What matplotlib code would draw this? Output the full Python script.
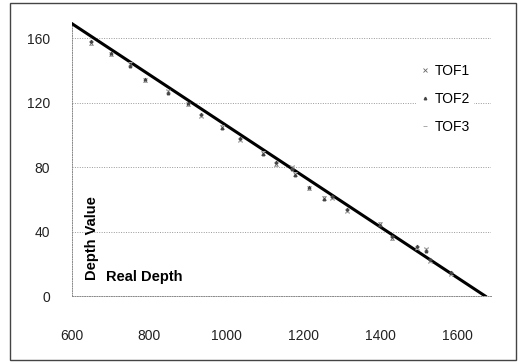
import matplotlib.pyplot as plt
import matplotlib.patches as patches

plt.rcParams['font.family'] = ['Liberation Sans', 'DejaVu Sans']

# data
real_depth = [650, 700, 750, 790, 850, 900, 935, 990, 1035, 1095, 1130,
              1170, 1180, 1215, 1255, 1275, 1315, 1400, 1430, 1495, 1520,
              1530, 1585]
tof1 = [157, 150, 144, 134, 127, 119, 112, 105, 97, 89, 82,
        80, 76, 67, 61, 61, 53, 45, 36, 30, 29, 22, 14]
tof2 = [158, 151, 143, 135, 126, 120, 113, 104, 98, 88, 83,
        79, 75, 68, 60, 62, 54, 44, 37, 31, 28, 23, 15]
tof3 = [156, 149, 145, 133, 128, 118, 111, 106, 96, 90, 81,
        81, 77, 66, 62, 60, 52, 46, 35, 29, 30, 21, 13]

# reference line (real depth)
line_x = [600, 1673]
line_y = [169, 0]

yticks = [0, 40, 80, 120, 160]
xticks = [600, 800, 1000, 1200, 1400, 1600]

fig = plt.figure(figsize=(5.18, 3.62), dpi=100)
ax = fig.add_axes([0.139, 0.182, 0.809, 0.757])

ax.plot(line_x, line_y, color='black', lw=2.2, zorder=3, label='_nolegend_')
ax.plot(real_depth, tof1, ls='none', marker='x', ms=2.2, mew=0.6, color='#666666', label='TOF1', zorder=4)
ax.plot(real_depth, tof2, ls='none', marker='^', ms=1.8, color='#444444', label='TOF2', zorder=4)
ax.plot(real_depth, tof3, ls='none', marker='_', ms=3, mew=0.7, color='#aaaaaa', label='TOF3', zorder=4)

ax.set_xlim(600, 1688)
ax.set_ylim(0, 170)
ax.set_xticks(xticks)
ax.set_yticks(yticks)
ax.tick_params(length=0, labelsize=10, colors='#222222')
ax.tick_params(axis='y', pad=16)
ax.tick_params(axis='x', pad=24)

ax.grid(axis='y', ls=(0, (1, 1.5)), color='#999999', lw=0.7)
for s in ['top', 'right']:
    ax.spines[s].set_visible(False)
for s in ['left', 'bottom']:
    ax.spines[s].set_linestyle((0, (1, 1.5)))
    ax.spines[s].set_color('#888888')
    ax.spines[s].set_linewidth(0.7)

ax.text(652, 36, 'Depth Value', rotation=90, ha='center', va='center',
        fontsize=10.5, fontweight='bold')
ax.text(688, 12, 'Real Depth', ha='left', va='center',
        fontsize=10.5, fontweight='bold')

leg = ax.legend(loc='upper left', bbox_to_anchor=(0.805, 0.887), frameon=True,
                facecolor='white', edgecolor='none', framealpha=1,
                fontsize=10, handlelength=0.6, handletextpad=0.4,
                labelspacing=1.0, borderpad=0.3)

fig.patches.append(patches.Rectangle((10 / 518, 2 / 362), 506 / 518, 357 / 362,
                                     transform=fig.transFigure, fill=False,
                                     edgecolor='#444444', lw=1))

fig.savefig('out.png', dpi=100)
